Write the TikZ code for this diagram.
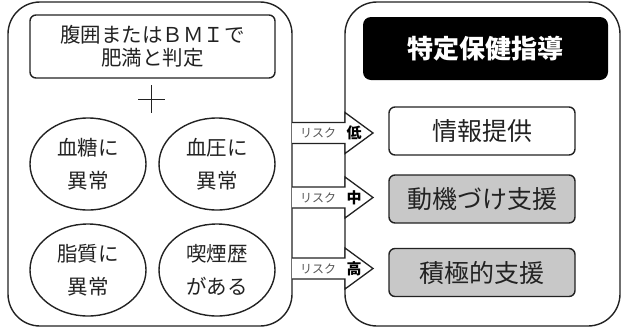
\documentclass[tikz,border=0pt]{standalone}
\usepackage{fontspec}
\setmainfont{Noto Sans CJK JP}
\usetikzlibrary{arrows.meta,shapes.geometric,calc}

\definecolor{ink}{HTML}{222222}
\definecolor{boxgray}{HTML}{C8C8C8}
\definecolor{riskgray}{HTML}{555555}

\tikzset{
  outer/.style={draw=ink, line width=1.4pt, rounded corners=32pt},
  itembox/.style={draw=ink, line width=1.4pt, rounded corners=6pt, text=ink},
  risk/.style={draw=ink, line width=1.3pt, fill=white, line join=miter},
}

\begin{document}
\begin{tikzpicture}[x=1pt, y=-1pt]
	\useasboundingbox (0,0) rectangle (621,330);

	% left: criteria
	\draw[outer] (8,2) rectangle (292,326);
	\node[itembox, minimum width=245pt, minimum height=63pt, align=center,
	      font=\fontsize{20.5}{23}\selectfont] (himan) at (152.5,46.5)
	      {腹囲またはＢＭＩで\\肥満と判定};
	\coordinate (plus) at (151.5,99);
	\draw[ink, line width=1pt] (plus) ++(-13.5,0) -- ++(27,0);
	\draw[ink, line width=1pt] (plus) ++(0,-14) -- ++(0,28);
	\node[draw=ink, line width=1.4pt, ellipse, minimum width=116pt, minimum height=92pt,
	      align=center, text=ink, font=\fontsize{20.5}{33}\selectfont] (kettou) at (88,164) {血糖に\\異常};
	\node[draw=ink, line width=1.4pt, ellipse, minimum width=116pt, minimum height=92pt,
	      align=center, text=ink, font=\fontsize{20.5}{33}\selectfont] (ketsuatsu) at (217,164) {血圧に\\異常};
	\node[draw=ink, line width=1.4pt, ellipse, minimum width=116pt, minimum height=92pt,
	      align=center, text=ink, font=\fontsize{20.5}{33}\selectfont] (shishitsu) at (88,270) {脂質に\\異常};
	\node[draw=ink, line width=1.4pt, ellipse, minimum width=116pt, minimum height=92pt,
	      align=center, text=ink, font=\fontsize{20.5}{33}\selectfont] (kitsuen) at (217,270) {喫煙歴\\がある};

	% right: guidance
	\draw[outer] (345,2) rectangle (620,326);
	\node[fill=black, rounded corners=8pt, minimum width=245pt, minimum height=63pt,
	      text=white, font=\fontsize{26}{26}\selectfont\bfseries] (shido) at (485.5,48.5) {特定保健指導};
	\node[itembox, fill=white, minimum width=186pt, minimum height=48pt,
	      font=\fontsize{25}{25}\selectfont] (joho) at (482,131) {情報提供};
	\node[itembox, fill=boxgray, minimum width=186pt, minimum height=48pt,
	      font=\fontsize{25}{25}\selectfont] (doki) at (482,199) {動機づけ支援};
	\node[itembox, fill=boxgray, minimum width=186pt, minimum height=48pt,
	      font=\fontsize{25}{25}\selectfont] (sekkyoku) at (482,272.5) {積極的支援};

	% risk arrows
	\coordinate (r1) at (292,133);
	\coordinate (r2) at (292,197.5);
	\coordinate (r3) at (292,268.5);
	\foreach \r/\lv in {r1/低, r2/中, r3/高} {
		\draw[risk] (\r) ++(0,-10.5) -- ++(53,0) -- ++(0,-10) -- ++(28,20.5)
			-- ++(-28,20.5) -- ++(0,-10) -- ++(-53,0);
		\node[text=riskgray, font=\fontsize{12}{12}\selectfont, inner sep=0pt]
			at ($(\r)+(26,0)$) {リスク};
		\node[text=black, font=\fontsize{15}{15}\selectfont\bfseries, inner sep=0pt]
			at ($(\r)+(62,0)$) {\lv};
	}
\end{tikzpicture}
\end{document}
